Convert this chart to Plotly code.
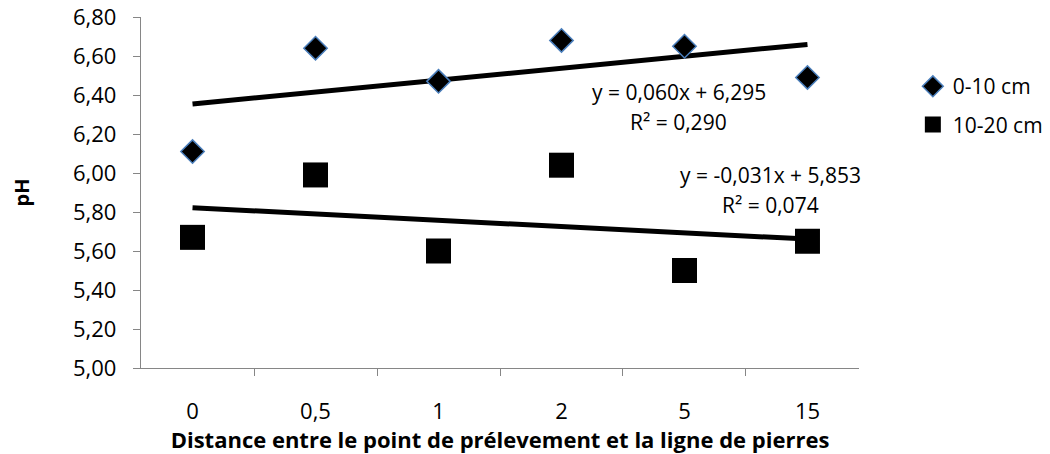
import numpy as np
import plotly.graph_objects as go

distances = ["0", "0,5", "1", "2", "5", "15"]
ph_0_10 = [6.11, 6.64, 6.47, 6.68, 6.65, 6.49]
ph_10_20 = [5.67, 5.99, 5.60, 6.04, 5.50, 5.65]
eq_0_10 = ["y = 0,060x + 6,295", "R² = 0,290"]
eq_10_20 = ["y = -0,031x + 5,853", "R² = 0,074"]

FONT = "Open Sans"
AXIS_GREY = "#868686"


def trend(values):
    # Excel-style linear trend: x = 1..n
    xs = np.arange(1, len(values) + 1)
    slope, intercept = np.polyfit(xs, values, 1)
    return [slope * xs[0] + intercept, slope * xs[-1] + intercept]


fig = go.Figure()

# trend lines first, markers on top
for vals in (ph_0_10, ph_10_20):
    fig.add_trace(go.Scatter(
        x=[distances[0], distances[-1]], y=trend(vals), mode="lines",
        line=dict(color="black", width=5), showlegend=False, hoverinfo="skip"))

fig.add_trace(go.Scatter(
    x=distances, y=ph_0_10, mode="markers", name="0-10 cm", legendgroup="a",
    marker=dict(symbol="diamond", size=18, color="black",
                line=dict(color="#4a7ebb", width=1.5))))
fig.add_trace(go.Scatter(
    x=distances, y=ph_10_20, mode="markers", name="10-20 cm", legendgroup="b",
    marker=dict(symbol="square", size=25, color="black",
                line=dict(color="black", width=0))))

# equation labels, one annotation per line (x centre, y of each line)
for lines, xc, ys in ((eq_0_10, 0.749, (0.786, 0.701)),
                      (eq_10_20, 0.877, (0.550, 0.464))):
    for txt, yy in zip(lines, ys):
        fig.add_annotation(x=xc, y=yy, xref="paper", yref="paper", text=txt,
                           showarrow=False, xanchor="center", yanchor="middle",
                           font=dict(size=21, color="black"))

fig.update_layout(
    width=1042, height=446,
    margin=dict(l=133, r=191, t=9, b=86, autoexpand=False),
    paper_bgcolor="white", plot_bgcolor="white",
    font=dict(family=FONT, size=22, color="black"),
    separators=", ",
    legend=dict(x=1.075, y=0.86, xanchor="left", yanchor="top",
                font=dict(size=21), itemwidth=30, tracegroupgap=8),
)
fig.update_xaxes(
    type="category", categoryorder="array", categoryarray=distances,
    tickson="boundaries", ticks="outside", ticklen=7, ticklabelstandoff=23,
    tickcolor=AXIS_GREY, showline=True, linecolor=AXIS_GREY, linewidth=1.3,
    showgrid=False, zeroline=False, automargin=False,
    title=dict(text="<b>Distance entre le point de prélevement et la ligne de pierres</b>",
               font=dict(size=22), standoff=0),
)
fig.update_yaxes(
    range=[5.0, 6.8], dtick=0.2, tickformat=".2f", ticks="outside", ticklen=7,
    ticklabelstandoff=12, ticklabeloverflow="allow",
    tickcolor=AXIS_GREY, showline=True, linecolor=AXIS_GREY, linewidth=1.3,
    showgrid=False, zeroline=False, automargin=False,
    title=dict(text="<b>pH</b>", font=dict(size=20), standoff=38),
)

fig.write_html("out.html")
